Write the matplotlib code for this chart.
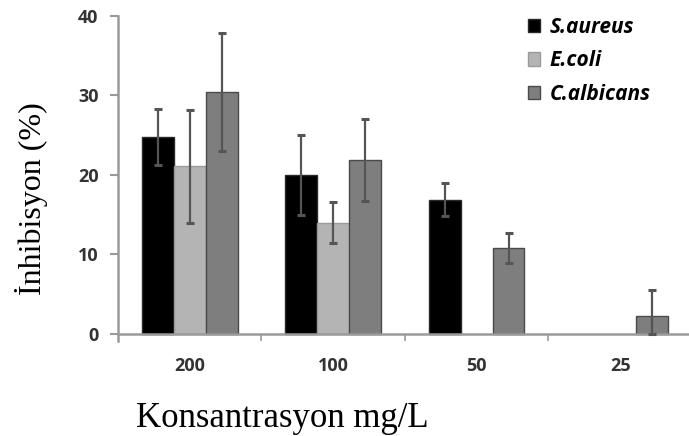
import matplotlib
matplotlib.use("Agg")
import matplotlib.pyplot as plt
import numpy as np
from matplotlib.patches import Patch

categories = ["200", "100", "50", "25"]
series = ["S.aureus", "E.coli", "C.albicans"]
s_aureus = [24.8, 20.0, 16.9, 0.0]
s_aureus_err = [3.5, 5.0, 2.1, 0.0]
e_coli = [21.1, 14.0, 0.0, 0.0]
e_coli_err = [7.1, 2.6, 0.0, 0.0]
c_albicans = [30.4, 21.9, 10.8, 2.3]
c_albicans_err = [7.4, 5.2, 1.9, 3.2]
y_ticks = [0, 10, 20, 30, 40]

colors = ["#000000", "#b4b4b4", "#7e7e7e"]
edges = ["#2a2a2a", "#9a9a9a", "#4a4a4a"]

fig = plt.figure(figsize=(6.89, 4.36), dpi=100)
ax = fig.add_axes([0.1713, 0.2179, 0.8287, 0.7454])

x = np.arange(len(categories))
w = 0.222
vals = [s_aureus, e_coli, c_albicans]
errs = [s_aureus_err, e_coli_err, c_albicans_err]
for i, (v, e) in enumerate(zip(vals, errs)):
    pos = x + (i - 1) * w
    v = np.array(v); e = np.array(e)
    mask = v > 0
    ax.bar(pos[mask], v[mask], width=w, color=colors[i], edgecolor=edges[i],
           linewidth=1.0, zorder=2)
    lower = np.minimum(e[mask], v[mask])
    ax.errorbar(pos[mask], v[mask], yerr=[lower, e[mask]], fmt="none",
                ecolor="#555555", elinewidth=1.6, capsize=3, capthick=2.2,
                zorder=3)

ax.set_xlim(-0.5, 3.48)
ax.set_ylim(-0.9, 40)
for s in ["top", "right"]:
    ax.spines[s].set_visible(False)
ax.spines["bottom"].set_position(("data", 0))
ax.spines["bottom"].set_color("#9a9a9a")
ax.spines["bottom"].set_linewidth(1.8)
ax.spines["left"].set_color("#9a9a9a")
ax.spines["left"].set_linewidth(1.8)

ax.set_yticks(y_ticks)
ax.set_yticklabels([str(t) for t in y_ticks], fontfamily="Open Sans",
                   fontweight="bold", fontsize=13, color="#333333")
ax.tick_params(axis="y", direction="out", length=6, width=1.5, color="#9a9a9a", pad=8)

ax.set_xticks(x)
ax.set_xticklabels(categories, fontfamily="Open Sans", fontweight="bold",
                   fontsize=13, color="#333333")
ax.tick_params(axis="x", which="major", length=0, pad=17)
ax.set_xticks([0.5, 1.5, 2.5], minor=True)
ax.tick_params(axis="x", which="minor", direction="out", length=5, width=1.2,
               color="#9a9a9a")

fig.text(0.046, 0.545, "İnhibisyon (%)", rotation=90, ha="center", va="center",
         fontfamily="Liberation Serif", fontsize=23)
fig.text(0.41, 0.04, "Konsantrasyon mg/L", ha="center", va="center",
         fontfamily="Liberation Serif", fontsize=25)

handles = [Patch(facecolor=c, edgecolor=e) for c, e in zip(colors, edges)]
leg = ax.legend(handles, series, loc="upper left", bbox_to_anchor=(0.685, 1.055),
                frameon=False, handlelength=0.6, handleheight=0.6,
                handletextpad=0.45, labelspacing=0.6,
                prop={"family": "Open Sans", "style": "italic", "weight": "bold",
                      "size": 15})

fig.savefig("out.png", dpi=100)
